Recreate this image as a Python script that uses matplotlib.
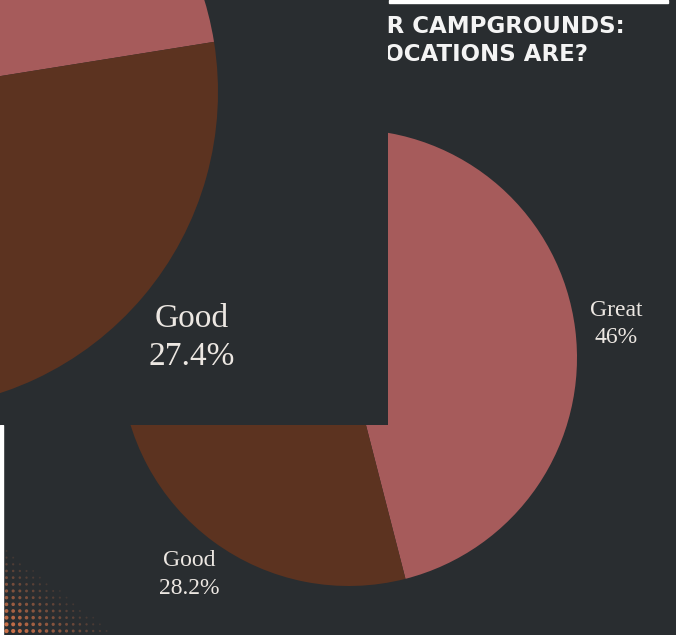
import numpy as np
import matplotlib.pyplot as plt
from matplotlib.patches import Rectangle

# ---------------------------------------
# Data
# ---------------------------------------
# main chart (background)
main_names = ["Great", "Good", "Okay", "Poor"]
main_values = [46, 28.2, 17.5, 8.3]

# zoomed-in inset chart (top left)
inset_names = ["Great", "Good", "Okay", "Poor"]
inset_values = [46.3, 27.4, 18.1, 8.2]

title_lines = ["HOW DO YOU RATE OUR CAMPGROUNDS:",
               "HOW GOOD THE LOCATIONS ARE?"]

# ---------------------------------------
# Style
# ---------------------------------------
W, H = 676, 635
BG = "#292d30"
PINK = "#a65b5b"
BROWN = "#5c3320"
OKAY = "#8a4a3a"
POOR = "#c98a6a"
TEXT = "#ece7e2"
colors = [PINK, BROWN, OKAY, POOR]
SERIF = "Liberation Serif"


def fmt(v):
    return f"{v:g}%"


fig = plt.figure(figsize=(W / 100, H / 100), dpi=100)
fig.patch.set_facecolor(BG)

# main axes: 1 data unit = 1 pixel
ax = fig.add_axes([0, 0, 1, 1])
main_labels = [f"{n}\n{fmt(v)}" for n, v in zip(main_names, main_values)]
wedges, texts = ax.pie(
    main_values,
    colors=colors,
    startangle=90,
    counterclock=False,
    center=(348.7, H - 357.7),
    radius=228.3,
    labels=main_labels,
    labeldistance=1.18,
    textprops=dict(color=TEXT, fontsize=17, family=SERIF, linespacing=1.4),
    wedgeprops=dict(linewidth=0),
)
for t in texts:
    t.set_ha("center")
    t.set_multialignment("center")
ax.set_xlim(0, W)
ax.set_ylim(0, H)
ax.set_aspect("auto")
ax.axis("off")

# title, right part visible past the inset
ax.text(625, H - 33, title_lines[0], ha="right", va="baseline",
        color="#f4f4f4", fontsize=16.5, fontweight="bold", family="DejaVu Sans")
ax.text(588, H - 61, title_lines[1], ha="right", va="baseline",
        color="#f4f4f4", fontsize=16.5, fontweight="bold", family="DejaVu Sans")

# halftone dots in the lower left corner
cols, rows = np.meshgrid(np.arange(18), np.arange(13))
fade = 1 - (cols / 16 + rows / 12.5)
keep = fade > 0.02
dot_x = 6.5 + 6.67 * cols[keep]
dot_y = 4 + 6.67 * rows[keep]
ax.scatter(dot_x, dot_y, s=1.5 + 8 * fade[keep], c="#c97048",
           alpha=np.clip(0.1 + fade[keep], 0, 1), linewidths=0, zorder=0)

# thin white strips left by the screenshot
ax.add_patch(Rectangle((389, H - 3), 279, 3, color="white", zorder=5))
ax.add_patch(Rectangle((0, 0), 3, H - 425, color="white", zorder=5))

# ---------------------------------------
# Inset: magnified view of the other chart
# ---------------------------------------
IW, IH = 388, 425
ax2 = fig.add_axes([0, 1 - IH / H, IW / W, IH / H])
ax2.add_patch(Rectangle((0, 0), IW, IH, color=BG, zorder=0))
inset_labels = [f"{n}\n{fmt(v)}" if n == "Good" else ""
                for n, v in zip(inset_names, inset_values)]
w2, t2 = ax2.pie(
    inset_values,
    colors=colors,
    startangle=9.1 + 3.6 * inset_values[0],
    counterclock=False,
    center=(-99, IH - 92),
    radius=317,
    labels=inset_labels,
    labeldistance=1.2,
    textprops=dict(color=TEXT, fontsize=24, family=SERIF, linespacing=1.35),
    wedgeprops=dict(linewidth=0),
)
for t in t2:
    t.set_ha("center")
    t.set_multialignment("center")
ax2.set_xlim(0, IW)
ax2.set_ylim(0, IH)
ax2.set_aspect("auto")
ax2.axis("off")

fig.savefig("out.png", dpi=100, facecolor=BG)
